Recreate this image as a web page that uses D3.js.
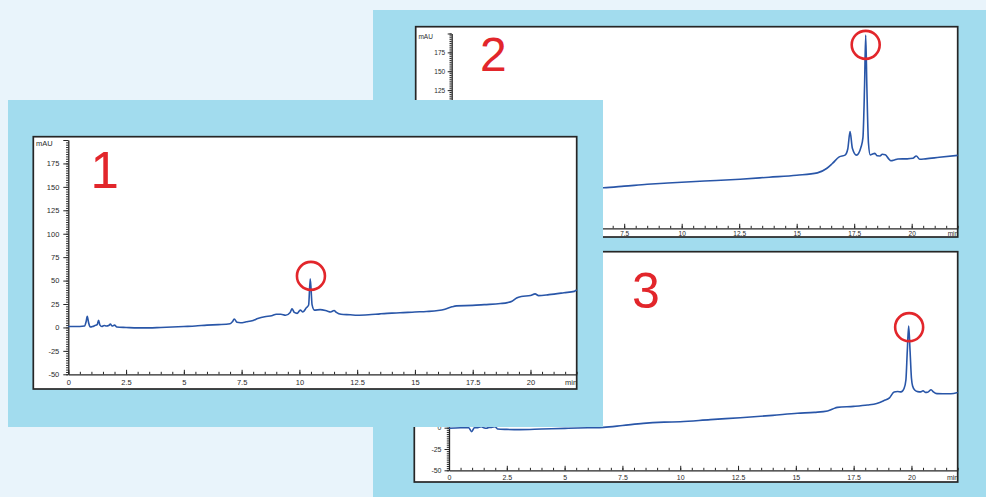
<!DOCTYPE html>
<html>
<head>
<meta charset="utf-8">
<script src="https://cdn.jsdelivr.net/npm/d3@7"></script>
<style>
  html, body { margin: 0; padding: 0; background: #e9f4fb; }
  svg { display: block; }
</style>
</head>
<body>
<svg id="chart" width="986" height="497"></svg>
<script>
// ---- Chromatogram 1 (retention time in min, absorbance in mAU) ----
const run1Time = [0, 0.5, 0.7, 0.77, 0.82, 0.88, 0.95, 1.05, 1.15, 1.25, 1.31, 1.37, 1.45, 1.55, 1.65, 1.75, 1.82, 1.9, 2.0, 2.1,
  2.5, 3.0, 3.5, 4.0, 4.5, 5.0, 5.5, 6.0, 6.5, 7.0, 7.1, 7.18, 7.3, 7.45, 7.7, 8.0, 8.2, 8.5, 8.8, 9.0, 9.2, 9.4, 9.6, 9.68, 9.78,
  9.9, 10.04, 10.15, 10.3, 10.4, 10.47, 10.55, 10.65, 10.9, 11.2, 11.35, 11.5, 11.6, 11.8, 12.2, 12.5, 13.0, 13.5, 14.0, 14.35,
  15.0, 15.5, 16.0, 16.3, 16.6, 16.8, 17.5, 18.0, 18.7, 19.0, 19.2, 19.4, 19.6, 20.0, 20.2, 20.35, 20.8, 21.45, 21.9, 22.0];
const run1Abs = [1, 1, 1.5, 6, 12, 5, 0.5, 1, 2, 3, 7.5, 2.5, 1, 2, 1.5, 2, 3.5, 1.5, 2.5, 0.5,
  0, -0.5, -0.5, 0, 0.5, 1, 1.5, 2.5, 3, 4, 6, 9, 5.5, 5, 6, 7.5, 9.5, 11.5, 12.5, 14, 14, 13, 16, 20, 16,
  15, 18.5, 16.5, 21, 24, 52, 24, 18.5, 19, 17.5, 16.5, 18, 16, 14, 13.5, 13, 13.5, 14.5, 15.3, 15.6,
  16.5, 17, 18, 19.5, 22, 23, 23.5, 24.3, 25.5, 26.5, 28, 31.5, 33, 34, 35.8, 34, 35, 37, 38.5, 40];

// ---- Chromatogram 2 ----
const run2Time = [0, 1.5, 3, 4.5, 6.6, 7.5, 8.5, 9.4, 10.4, 11.5, 12.54, 13.8, 15.0, 15.9, 16.3, 16.55, 16.85, 17.1, 17.22, 17.32,
  17.42, 17.6, 17.8, 17.88, 17.95, 18.0, 18.05, 18.12, 18.2, 18.3, 18.4, 18.5, 18.62, 18.72, 18.85, 19.0, 19.1, 19.25, 19.4,
  19.8, 20.05, 20.2, 20.35, 20.6, 21.2, 22.0];
const run2Abs = [-6, -6.5, -6, -5.5, -4.2, -2.2, 0.3, 2, 3.7, 5.3, 7, 9.7, 12.3, 15.4, 21.2, 27.8, 36.6, 38.9, 47, 70,
  48, 38.9, 50, 62, 130, 198, 130, 55, 39, 40.5, 41.2, 38, 37.8, 40.1, 39.5, 34, 31.5, 32.5, 33.8,
  34, 34.7, 37.8, 33.4, 34, 36, 38.6];

// ---- Chromatogram 3 ----
const run3Time = [0, 0.5, 0.85, 0.98, 1.1, 1.2, 1.4, 1.5, 1.62, 1.75, 1.84, 1.99, 2.1, 2.5, 3.07, 4.0, 5.02, 6.0, 6.68, 7.5,
  8.4, 9.3, 10.0, 11.3, 12.6, 14.0, 15.07, 15.8, 16.37, 16.6, 16.8, 17.5, 18.1, 18.5, 18.8, 19.05, 19.25, 19.4, 19.55, 19.68,
  19.76, 19.82, 19.88, 19.94, 20.0, 20.05, 20.15, 20.27, 20.4, 20.5, 20.6, 20.7, 20.85, 20.95, 21.1, 21.7, 22.0];
const run3Abs = [-0.7, 0, 0, -4.7, 0, 0, 1.2, 0, -0.7, 0.4, 0.4, 1.2, -1.5, -2, -2.3, -1.6, -0.8, 0, 0.4, 2.5,
  5.1, 6.5, 7.0, 9.5, 11.7, 14.5, 16.9, 18, 19.6, 22, 23.9, 25, 26.6, 28.5, 31.7, 35, 41.9, 42.5, 42, 46,
  56, 90, 119.4, 90, 58, 49, 44, 42.3, 42, 43.4, 41.5, 41.7, 44.6, 42, 40, 39.9, 41.3];

// Marked peak of interest in each run: [time, mAU]
const run1Marked = [10.5, 55];
const run2Marked = [18.0, 185];
const run3Marked = [19.9, 118];

// Axis ticks
const xMajorTicks = [0, 2.5, 5, 7.5, 10, 12.5, 15, 17.5, 20];
const xMinorTicks = d3.range(0, 22.01, 0.5);
const yMajorTicks = [-50, -25, 0, 25, 50, 75, 100, 125, 150, 175, 200];
const yMinorTicks = d3.range(-50, 200.01, 2.5);

const COLORS = {
  page: "#e9f4fb",
  card: "#a2dcee",
  frame: "#262626",
  text: "#2a2a2a",
  trace: "#2956a8",
  mark: "#e2262b"
};
const FONT = "'Liberation Sans', Arial, sans-serif";

const svg = d3.select("#chart");
svg.append("rect").attr("width", 986).attr("height", 497).attr("fill", COLORS.page);

function drawPanel(opt) {
  const g = svg.append("g");
  const [fx0, fy0, fx1, fy1] = opt.frame;
  g.append("rect")
    .attr("x", fx0).attr("y", fy0)
    .attr("width", fx1 - fx0).attr("height", fy1 - fy0)
    .attr("fill", "#ffffff")
    .attr("stroke", COLORS.frame).attr("stroke-width", 1.7);

  const x = d3.scaleLinear().domain([0, 22]).range(opt.xRange);
  const y = d3.scaleLinear().domain(opt.yDomain).range(opt.yRange);
  const x0 = opt.xRange[0];
  const yBase = opt.yRange[0];

  // x axis: ticks point into the plot
  const xMinor = g.append("g").attr("transform", `translate(0,${yBase})`)
    .call(d3.axisBottom(x).tickValues(xMinorTicks).tickSizeInner(-2.5).tickSizeOuter(0).tickFormat(""));
  xMinor.select(".domain").remove();
  const xAxis = g.append("g").attr("transform", `translate(0,${yBase})`)
    .call(d3.axisBottom(x).tickValues(xMajorTicks).tickSizeInner(-4.5).tickSizeOuter(0)
      .tickFormat(d => String(d)));
  xAxis.selectAll("text")
    .attr("y", opt.xLabelDy).attr("dy", 0)
    .attr("font-size", opt.font + "px");

  // y axis: ticks point outwards
  const yMinor = g.append("g").attr("transform", `translate(${x0},0)`)
    .call(d3.axisLeft(y).tickValues(yMinorTicks).tickSizeInner(2.2).tickSizeOuter(0).tickFormat(""));
  yMinor.select(".domain").remove();
  const yAxis = g.append("g").attr("transform", `translate(${x0},0)`)
    .call(d3.axisLeft(y).tickValues(yMajorTicks).tickSizeInner(opt.yTick).tickSizeOuter(0)
      .tickPadding(opt.yPad).tickFormat(d => d === 200 ? "" : String(d)));
  yAxis.selectAll("text").attr("font-size", opt.font + "px");

  g.selectAll(".domain").attr("stroke", COLORS.frame).attr("stroke-width", 1.3);
  g.selectAll(".tick line").attr("stroke", COLORS.frame).attr("stroke-width", 1);
  g.selectAll(".tick text")
    .attr("fill", COLORS.text)
    .attr("font-family", FONT);

  // unit captions
  g.append("text")
    .attr("x", fx0 + 2.7).attr("y", y(200) + opt.unitDy)
    .attr("font-family", FONT)
    .attr("font-size", opt.font + "px").attr("fill", COLORS.text)
    .text("mAU");
  g.append("text")
    .attr("x", fx1 + 0.5).attr("y", yBase + opt.xLabelDy)
    .attr("text-anchor", "end")
    .attr("font-family", FONT)
    .attr("font-size", opt.font + "px").attr("fill", COLORS.text)
    .text("min");

  // signal trace
  const pts = opt.time.map((t, i) => [t, opt.abs[i]]);
  g.append("path")
    .datum(pts)
    .attr("fill", "none")
    .attr("stroke", COLORS.trace)
    .attr("stroke-width", 1.6)
    .attr("stroke-linejoin", "round")
    .attr("d", d3.line().x(d => x(d[0])).y(d => y(d[1])).curve(d3.curveMonotoneX));

  // marked peak
  g.append("circle")
    .attr("cx", x(opt.marked[0])).attr("cy", y(opt.marked[1]))
    .attr("r", 14)
    .attr("fill", "none")
    .attr("stroke", COLORS.mark).attr("stroke-width", 2.6);

  // run number
  g.append("text")
    .attr("x", opt.numberPos[0]).attr("y", opt.numberPos[1])
    .attr("font-family", FONT)
    .attr("font-size", opt.numberSize + "px")
    .attr("fill", COLORS.mark)
    .text(opt.number);
}

// background card behind runs 2 and 3
svg.append("rect").attr("x", 373).attr("y", 10).attr("width", 613).attr("height", 487).attr("fill", COLORS.card);

drawPanel({
  frame: [415.7, 26.7, 957.7, 237], xRange: [451.7, 957.7],
  yDomain: [-58, 200], yRange: [228.3, 33.5],
  font: 6.5, xLabelDy: 7.6, yTick: 4, yPad: 2.5, unitDy: 5.5,
  time: run2Time, abs: run2Abs, marked: run2Marked,
  number: "2", numberPos: [480, 71], numberSize: 48
});

drawPanel({
  frame: [414.3, 251.7, 957.7, 482], xRange: [449, 957.7],
  yDomain: [-50, 200], yRange: [470.3, 257.3],
  font: 7, xLabelDy: 9.7, yTick: 4.5, yPad: 3, unitDy: 5.5,
  time: run3Time, abs: run3Abs, marked: run3Marked,
  number: "3", numberPos: [632, 308.3], numberSize: 50
});

// card for run 1, laid over the others
svg.append("rect").attr("x", 8).attr("y", 100).attr("width", 595).attr("height", 327).attr("fill", COLORS.card);

drawPanel({
  frame: [33.3, 136.7, 576.7, 389], xRange: [68.3, 576.7],
  yDomain: [-50, 200], yRange: [374.3, 140],
  font: 7.5, xLabelDy: 10.7, yTick: 5, yPad: 4, unitDy: 5.5,
  time: run1Time, abs: run1Abs, marked: run1Marked,
  number: "1", numberPos: [90.5, 188.3], numberSize: 51
});
</script>
</body>
</html>
